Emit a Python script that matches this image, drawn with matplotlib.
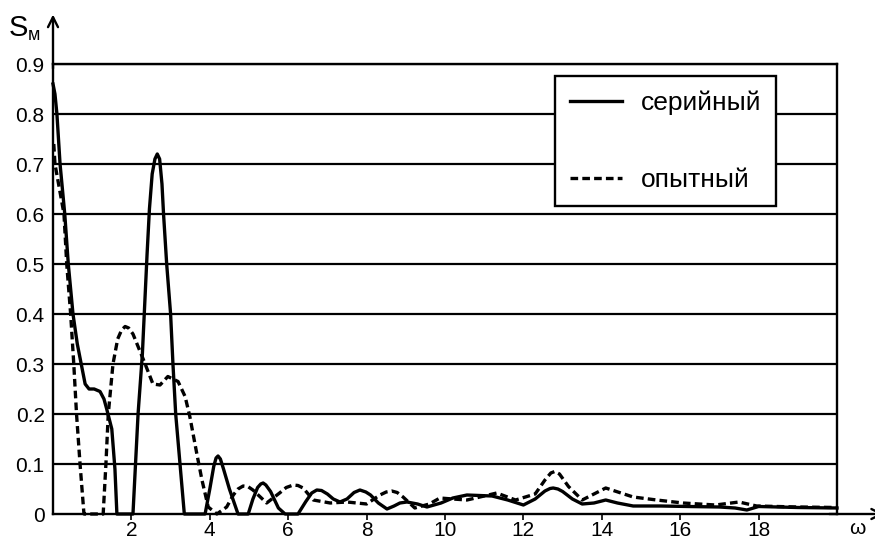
import numpy as np
import matplotlib
matplotlib.use("Agg")
import matplotlib.pyplot as plt

plt.rcParams['font.family'] = ['Liberation Sans', 'DejaVu Sans']
plt.rcParams['lines.scale_dashes'] = False

# серийный (solid)
x_ser = [0, 0.05, 0.1, 0.18, 0.3, 0.39, 0.51, 0.62, 0.72, 0.82, 0.92, 1.05,
         1.2, 1.3, 1.37, 1.5, 1.58, 1.63, 2.04, 2.17, 2.28, 2.34, 2.4, 2.46,
         2.53, 2.6, 2.66, 2.72, 2.78, 2.82, 2.9, 3.0, 3.06, 3.13, 3.24, 3.35,
         3.88, 4.0, 4.1, 4.16, 4.21, 4.27, 4.35, 4.5, 4.72, 4.98, 5.1, 5.22,
         5.3, 5.36, 5.43, 5.55, 5.75, 5.92, 6.25, 6.45, 6.6, 6.73, 6.85, 7.0,
         7.15, 7.32, 7.5, 7.68, 7.83, 7.98, 8.1, 8.3, 8.52, 8.7, 8.85, 9.03,
         9.3, 9.54, 9.9, 10.2, 10.56, 11.2, 11.6, 12.0, 12.3, 12.55, 12.68,
         12.76, 12.88, 13.0, 13.25, 13.5, 13.8, 14.1, 14.4, 14.8, 15.5, 16.2,
         17.0, 17.4, 17.7, 18.0, 19.0, 20.0]
y_ser = [0.86, 0.84, 0.80, 0.70, 0.60, 0.50, 0.40, 0.34, 0.30, 0.26, 0.25,
         0.25, 0.245, 0.23, 0.21, 0.17, 0.09, 0.0, 0.0, 0.2, 0.32, 0.42, 0.52,
         0.61, 0.68, 0.71, 0.72, 0.71, 0.66, 0.60, 0.50, 0.40, 0.30, 0.20, 0.10,
         0.0, 0.0, 0.05, 0.095, 0.112, 0.116, 0.11, 0.09, 0.05, 0.0, 0.0, 0.03,
         0.053, 0.06, 0.062, 0.058, 0.045, 0.012, 0.0, 0.0, 0.025, 0.042,
         0.048, 0.047, 0.04, 0.03, 0.024, 0.03, 0.043, 0.048, 0.044, 0.038,
         0.022, 0.01, 0.016, 0.022, 0.024, 0.02, 0.014, 0.022, 0.032, 0.038,
         0.036, 0.028, 0.018, 0.03, 0.046, 0.051, 0.052, 0.05, 0.045, 0.03,
         0.02, 0.022, 0.028, 0.022, 0.016, 0.016, 0.015, 0.014, 0.012, 0.008,
         0.015, 0.013, 0.012]

# опытный (dashed)
x_opt = [0.02, 0.05, 0.28, 0.35, 0.45, 0.53, 0.6, 0.69, 0.79, 1.28, 1.35,
         1.41, 1.53, 1.65, 1.75, 1.84, 1.93, 2.04, 2.3, 2.55, 2.73, 2.93,
         3.19, 3.37, 3.49, 3.67, 3.8, 3.96, 4.18, 4.43, 4.6, 4.72, 4.85, 4.97,
         5.1, 5.45, 5.78, 5.95, 6.13, 6.25, 6.38, 6.64, 7.07, 7.5, 8.0, 8.34,
         8.5, 8.64, 8.78, 8.93, 9.23, 9.6, 9.87, 10.2, 10.56, 11.0, 11.32,
         11.8, 12.3, 12.55, 12.7, 12.8, 12.92, 13.15, 13.5, 13.8, 14.1, 14.8,
         15.4, 16.07, 16.9, 17.5, 17.95, 19.0, 20.0]
y_opt = [0.74, 0.70, 0.60, 0.50, 0.40, 0.30, 0.20, 0.10, 0.0, 0.0, 0.10,
         0.20, 0.30, 0.35, 0.368, 0.375, 0.372, 0.36, 0.31, 0.26, 0.258, 0.275,
         0.265, 0.235, 0.195, 0.12, 0.068, 0.014, 0.0, 0.014, 0.038, 0.05,
         0.056, 0.055, 0.048, 0.022, 0.042, 0.053, 0.058, 0.057, 0.052, 0.028,
         0.022, 0.024, 0.02, 0.038, 0.044, 0.046, 0.043, 0.034, 0.012, 0.02,
         0.032, 0.03, 0.028, 0.036, 0.042, 0.028, 0.04, 0.068, 0.082, 0.085,
         0.08, 0.055, 0.028, 0.04, 0.052, 0.034, 0.028, 0.022, 0.018, 0.024,
         0.016, 0.014, 0.013]

y_ticks = [0, 0.1, 0.2, 0.3, 0.4, 0.5, 0.6, 0.7, 0.8, 0.9]
y_labels = ['0', '0.1', '0.2', '0.3', '0.4', '0.5', '0.6', '0.7', '0.8', '0.9']
x_ticks = [2, 4, 6, 8, 10, 12, 14, 16, 18]

fig = plt.figure(figsize=(8.75, 5.4), dpi=100)
ax = fig.add_axes([53 / 875, 1 - 514 / 540, 784 / 875, 450 / 540])

ax.plot(x_ser, y_ser, color='black', lw=2.4, solid_joinstyle='round',
        label='серийный', clip_on=False)
ax.plot(x_opt, y_opt, color='black', lw=2.4, dashes=(5.5, 3.0),
        label='опытный', clip_on=False)

ax.set_xlim(0, 20)
ax.set_ylim(0, 0.9)
for yv in y_ticks[1:]:
    ax.axhline(yv, color='black', lw=1.6, zorder=0.5)

for sp in ax.spines.values():
    sp.set_linewidth(1.7)

ax.set_yticks(y_ticks)
ax.set_yticklabels(y_labels)
ax.set_xticks(x_ticks)
ax.set_xticklabels([str(v) for v in x_ticks])
ax.tick_params(axis='y', length=0, pad=6, labelsize=15)
ax.tick_params(axis='x', length=4, width=1.2, pad=1, labelsize=15,
               direction='out')

# axis arrows
ax.annotate('', xy=(0, 1.11), xycoords='axes fraction', xytext=(0, 0.99),
            arrowprops=dict(arrowstyle='->', lw=1.7, color='black',
                            mutation_scale=18, shrinkA=0, shrinkB=0))
ax.annotate('', xy=(1.06, 0), xycoords='axes fraction', xytext=(0.99, 0),
            arrowprops=dict(arrowstyle='->', lw=1.7, color='black',
                            mutation_scale=18, shrinkA=0, shrinkB=0))

fig.text(9 / 875, 1 - 36 / 540, 'S', fontsize=21, ha='left', va='baseline')
fig.text(28 / 875, 1 - 40 / 540, 'м', fontsize=13, ha='left', va='baseline')
fig.text(849 / 875, 1 - 529 / 540, 'ω', fontsize=15, ha='left',
         va='center')

leg = ax.legend(loc='upper left', bbox_to_anchor=(555 / 875, 1 - 76 / 540),
                bbox_transform=fig.transFigure, fontsize=19, frameon=True,
                fancybox=False, edgecolor='black', framealpha=1,
                borderaxespad=0, borderpad=0.55, handlelength=2.0,
                handletextpad=0.7, labelspacing=2.0)
leg.get_frame().set_linewidth(1.7)

fig.savefig('out.png', dpi=100)
